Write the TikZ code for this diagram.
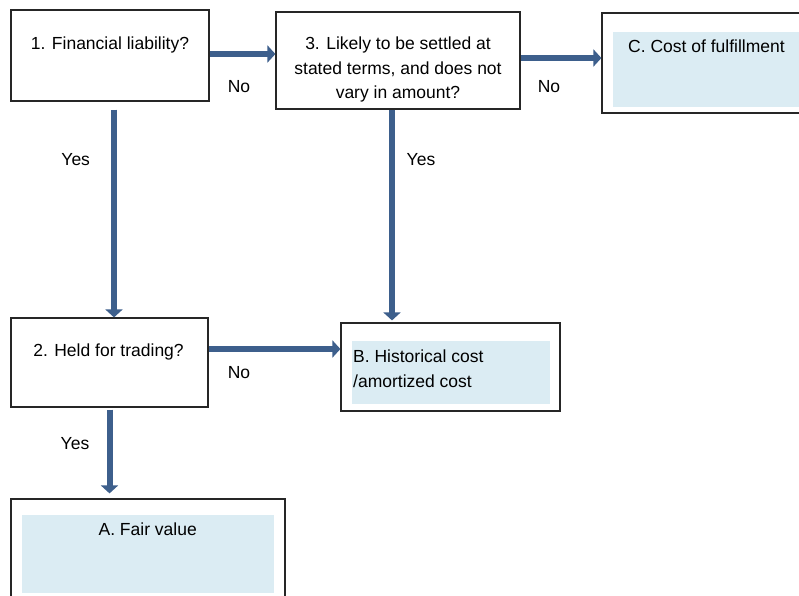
\documentclass[tikz,border=0pt]{standalone}
\usepackage{fontspec}
\setmainfont{Liberation Sans}
\usetikzlibrary{arrows.meta,positioning,calc}
\definecolor{flowblue}{RGB}{61,95,140}
\definecolor{paleblue}{RGB}{219,236,243}
\tikzstyle{arrow} = [line width=6pt,draw=flowblue,-{Triangle[width=17pt,length=8pt]}]
\tikzstyle{qbox} = [rectangle, draw=black!85, line width=1.2pt, inner sep=0pt]
\tikzstyle{shade} = [rectangle, fill=paleblue, inner sep=0pt]
\tikzstyle{txt} = [inner sep=0pt, anchor=base, font=\fontsize{17.5}{24.7}\selectfont]

\begin{document}
\begin{tikzpicture}[x=1pt,y=-1pt]
	\clip (0,0) rectangle (799,595);
	\fill[white] (0,0) rectangle (799,595);
	% question boxes
	\node[qbox,minimum width=198,minimum height=91](q_1) at (110,55.5) {};
	\node[qbox,minimum width=244,minimum height=97](q_3) at (398,60.5) {};
	\node[qbox,minimum width=197,minimum height=89](q_2) at (109.5,362.5) {};
	% outcome boxes
	\node[qbox,minimum width=208,minimum height=100](o_c) at (706,63) {};
	\node[shade,minimum width=197,minimum height=75](f_c) at (711.5,69.5) {};
	\node[qbox,minimum width=219,minimum height=88](o_b) at (450.5,367) {};
	\node[shade,minimum width=198,minimum height=63](f_b) at (451,372.5) {};
	\node[qbox,minimum width=274,minimum height=112](o_a) at (148,555) {};
	\node[shade,minimum width=252,minimum height=78](f_a) at (148,554) {};
	% texts (base of a multi-line text is its last line)
	\node[txt](t_1) at (110,49) {1. Financial liability?};
	\node[txt,align=center](t_3) at (398,98.7) {3. Likely to be settled at\\stated terms, and does not\\vary in amount?};
	\node[txt](t_2) at (108.5,356.7) {2. Held for trading?};
	\node[txt,anchor=base west](t_c) at (628,52.3) {C. Cost of fulfillment};
	\node[txt,anchor=base west,align=left](t_b) at (353,387.3) {B. Historical cost\\/amortized cost};
	\node[txt](t_a) at (147.7,535.7) {A. Fair value};
	% arrows
	\draw[arrow] ([yshift=1.5pt]q_1.east) -- ([yshift=1.5pt]q_1.east -| q_3.west);
	\draw[arrow] ([yshift=2.5pt]q_3.east) -- ([yshift=2.5pt]q_3.east -| o_c.west);
	\draw[arrow] ([xshift=4pt,yshift=-8pt]q_1.south) -- ([xshift=4pt]q_1.south |- q_2.north);
	\draw[arrow] ([xshift=-6pt]q_3.south) -- ([xshift=-6pt,yshift=2pt]q_3.south |- o_b.north);
	\draw[arrow] ([yshift=13.5pt]q_2.east) -- ([yshift=13.5pt]q_2.east -| o_b.west);
	\draw[arrow] ([yshift=-2pt]q_2.south) -- ([yshift=5pt]q_2.south |- o_a.north);
	% labels
	\node[txt](n_1) at (239,92.3) {No};
	\node[txt](n_3) at (549,92.3) {No};
	\node[txt](n_2) at (239,378.3) {No};
	\node[txt](y_1) at (75.7,165) {Yes};
	\node[txt](y_3) at (421,165) {Yes};
	\node[txt](y_2) at (75,449.3) {Yes};
\end{tikzpicture}
\end{document}
